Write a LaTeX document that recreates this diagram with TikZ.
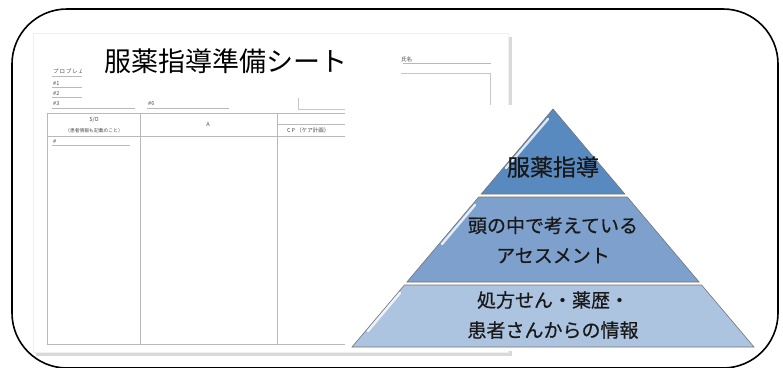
\documentclass[tikz,border=0pt]{standalone}
\usepackage{fontspec}
\newfontfamily\jpfont{Noto Sans CJK JP}
\newfontfamily\jpbold[FakeBold=0.6]{Noto Sans CJK JP}
\usepackage{tikz}
\usetikzlibrary{calc}
\tikzset{
  sheetline/.style={draw=gray!55, line width=0.5pt},
  sheettext/.style={font=\jpfont\fontsize{5.5}{6}\selectfont, text=black!70, inner sep=0pt},
  tiertext/.style={font=\jpbold\fontsize{19}{30}\selectfont, text=black!90, align=center},
  gloss/.style={white, opacity=0.8, line width=2.4pt, line cap=round},
}

\begin{document}
\begin{tikzpicture}[x=1pt, y=-1pt]
% Defining colors
\definecolor{tiertop}{rgb}{0.35, 0.54, 0.75}
\definecolor{tiermid}{rgb}{0.49, 0.63, 0.80}
\definecolor{tierlow}{rgb}{0.68, 0.77, 0.88}
\definecolor{tieredge}{rgb}{0.45, 0.45, 0.45}

\useasboundingbox (0, 0) rectangle (783, 367);

% =:=:=:=:=:=:=:=:=:=:=:=:=:=:=:=:=:=:=
% Sheet (page with shadow)
% =:=:=:=:=:=:=:=:=:=:=:=:=:=:=:=:=:=:=
\fill[gray!30] (36, 37) rectangle (512, 356);
\fill[white] (33, 33) rectangle (508, 352);
\draw[gray!12, line width=0.6pt] (33, 33) rectangle (508, 352);

% header lines
\node[sheettext, anchor=south west] (prob) at (53, 74) {プ\,ロ\,ブ\,レ\,ム};
\draw[sheetline] (52, 76) -- (82, 76);
\node[sheettext, anchor=south west] (p1) at (53, 86) {\#1};
\draw[sheetline] (52, 87) -- (82, 87);
\node[sheettext, anchor=south west] (p2) at (53, 96) {\#2};
\draw[sheetline] (52, 97) -- (82, 97);
\node[sheettext, anchor=south west] (p3) at (53, 106) {\#3};
\draw[sheetline] (52, 108) -- (135, 108);
\node[sheettext, anchor=south west] (p6) at (148, 106) {\#6};
\draw[sheetline] (147, 108) -- (229, 108);

% name field
\node[sheettext, anchor=south west] (name) at (401, 62) {氏名};
\draw[sheetline] (403, 63.5) -- (491, 63.5);
\draw[sheetline, draw=gray!45] (298, 73) rectangle (490, 109);

% table
\draw[sheetline] (47, 113) rectangle (490, 344);
\draw[sheetline] (140, 113) -- (140, 344);
\draw[sheetline] (277, 113) -- (277, 344);
\draw[sheetline] (47, 136) -- (490, 136);
\draw[sheetline] (277, 124) -- (490, 124);
\node[sheettext] (so) at (94, 120) {S/O};
\node[sheettext, font=\jpfont\fontsize{4.8}{5}\selectfont] (sonote) at (94, 131) {（患者情報も記載のこと）};
\node[sheettext] (acol) at (208, 124) {A};
\node[sheettext, anchor=west] (cp) at (287, 130.5) {C\,P\ （ケア計画）};
\node[sheettext, anchor=south west] (hash) at (53, 144) {\#};
\draw[sheetline] (52, 145.5) -- (130, 145.5);

% title (white box hides what is below)
\node[fill=white, inner sep=0pt, minimum width=319pt, minimum height=58pt,
      anchor=north west] (titlebox) at (82, 40) {};
\node[font=\jpfont\fontsize{27}{27}\selectfont, inner sep=0pt] (title)
    at (225.5, 61) {服薬指導準備シート};

% =:=:=:=:=:=:=:=:=:=:=:=:=:=:=:=:=:=:=
% Pyramid picture
% =:=:=:=:=:=:=:=:=:=:=:=:=:=:=:=:=:=:=
\fill[white] (345, 105) rectangle (520, 351);

% top tier
\filldraw[fill=tiertop, draw=tieredge, line width=0.6pt]
    (553, 109) -- (624.8, 194) -- (481.2, 194) -- cycle;
\draw[gloss] (548, 119) -- (506, 168);

% middle tier
\filldraw[fill=tiermid, draw=tieredge, line width=0.6pt]
    (478.7, 197) -- (627.3, 197) -- (699.1, 282) -- (406.9, 282) -- cycle;
\draw[gloss] (475, 205) -- (442, 244);

% bottom tier
\filldraw[fill=tierlow, draw=tieredge, line width=0.6pt]
    (404.4, 285) -- (701.6, 285) -- (754, 347) -- (352, 347) -- cycle;
\draw[gloss] (400, 293) -- (368, 331);

% tier labels
\node[tiertext, font=\jpbold\fontsize{23}{23}\selectfont] (guide) at (553, 167) {服薬指導};
\node[tiertext] (assess) at (553, 240) {頭の中で考えている\\アセスメント};
\node[tiertext] (source) at (553, 315) {処方せん・薬歴・\\患者さんからの情報};

% =:=:=:=:=:=:=:=:=:=:=:=:=:=:=:=:=:=:=
% Outer frame
% =:=:=:=:=:=:=:=:=:=:=:=:=:=:=:=:=:=:=
\draw[black, line width=1.6pt, rounded corners=55pt]
    (12, 9) rectangle (778, 368);

\end{tikzpicture}
\end{document}
